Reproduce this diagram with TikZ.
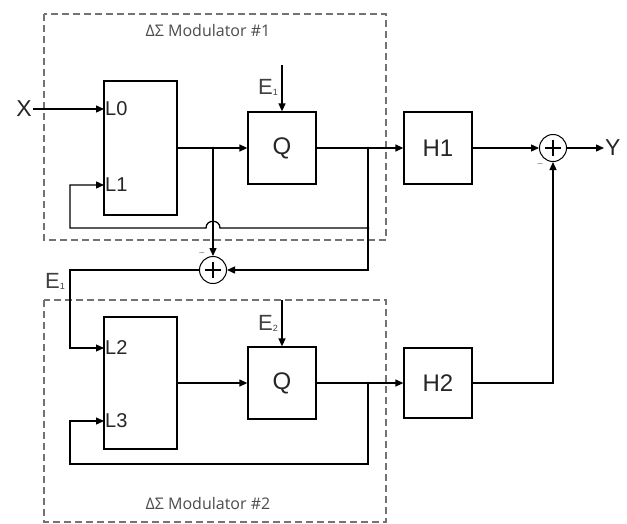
\documentclass[tikz,border=0pt]{standalone}
\usepackage{fontspec}
\setmainfont{Liberation Sans}
\newfontfamily\titlefont{Open Sans}
\usetikzlibrary{arrows.meta,calc}
\newcommand{\esub}[1]{E{\fontsize{9}{9}\selectfont\raisebox{-1pt}{#1}}}
\begin{document}
\begin{tikzpicture}[x=1pt,y=-1pt,
 blk/.style={draw,line width=1.3pt,minimum width=68pt,minimum height=72pt,inner sep=0pt,font=\fontsize{24}{26}\selectfont,text=black!85},
 lblk/.style={draw,line width=1.3pt,minimum width=73pt,minimum height=134pt,inner sep=0pt},
 wire/.style={line width=1.3pt},
 arr/.style={wire,-{Triangle[length=8pt,width=7pt]}},
 modbox/.style={draw=black!55,dash pattern=on 7pt off 4pt,line width=1.3pt},
 sum/.style={draw,circle,minimum size=27pt,inner sep=0pt,line width=1pt},
 plus/.style={line width=1.6pt},
 port/.style={font=\fontsize{20}{22}\selectfont,anchor=west,inner sep=1pt,text=black!85},
 ttl/.style={font=\titlefont\fontsize{16}{18}\selectfont,text=black!70},
 sig/.style={font=\fontsize{23}{25}\selectfont,inner sep=1pt,text=black!85},
 elab/.style={font=\fontsize{22}{24}\selectfont,text=black!75,inner sep=1pt},
 minus/.style={font=\fontsize{9}{9}\selectfont,text=black!60,inner sep=0pt},
 dot/.style={fill,circle,inner sep=0pt,minimum size=3pt},
]
\useasboundingbox (0,0) rectangle (627,523);
\fill[white] (0,0) rectangle (627,523);
% modulator frames
\draw[modbox] (44,14) rectangle (386,240);
\draw[modbox] (44,300) rectangle (386,522);
\node[ttl] (tA) at (208,30) {ΔΣ Modulator \#1};
\node[ttl] (tB) at (208,503) {ΔΣ Modulator \#2};
% blocks
\node[lblk] (LA) at (140.5,148) {};
\node[blk] (QA) at (282,148) {Q};
\node[blk] (HA) at (438,148) {H1};
\node[lblk,minimum height=132pt] (LB) at (140.5,383) {};
\node[blk] (QB) at (282,383) {Q};
\node[blk,minimum height=70pt] (HB) at (438,383) {H2};
\node[sum] (SA) at (213,270) {};
\node[sum] (SB) at (553,148) {};
\draw[plus] ([xshift=-8pt]SA.center) -- ([xshift=8pt]SA.center);
\draw[plus] ([yshift=-8pt]SA.center) -- ([yshift=8pt]SA.center);
\draw[plus] ([xshift=-8pt]SB.center) -- ([xshift=8pt]SB.center);
\draw[plus] ([yshift=-8pt]SB.center) -- ([yshift=8pt]SB.center);
\node[minus] (mA) at (202,254) {--};
\node[minus] (mB) at (540,165) {--};
% port labels
\node[port] (l0) at (104,109) {L0};
\node[port] (l1) at (104,185) {L1};
\node[port] (l2) at (104,348) {L2};
\node[port] (l3) at (104,421) {L3};
\coordinate (pL0) at (104,109);
\coordinate (pL1) at (104,185);
\coordinate (pL2) at (104,348);
\coordinate (pL3) at (104,421);
% signals
\node[sig,anchor=east] (X) at (33,109) {X};
\node[sig,anchor=west] (Y) at (604,148) {Y};
\node[elab] (E1a) at (268,87) {\esub{1}};
\node[elab] (E2) at (268,323) {\esub{2}};
\node[elab] (E1b) at (55,281) {\esub{1}};
\coordinate (eA) at (282,65);
\coordinate (eB) at (282,300);
% junctions
\coordinate (bA) at (213,148);
\coordinate (cA) at (368,148);
\coordinate (fA) at (368,228);
\coordinate (kA) at (70,228);
\coordinate (kS) at (70,348);
\coordinate (cB) at (368,383);
\coordinate (fB) at (368,464);
\coordinate (kB) at (70,464);
\node[dot] at (bA) {};
\node[dot] at (cA) {};
\node[dot] at (fA) {};
\node[dot] at (cB) {};
% modulator 1 wiring
\draw[arr] (X.east) -- (pL0);
\draw[arr] (LA.east) -- (QA.west);
\draw[arr] (QA.east) -- (HA.west);
\draw[arr] (eA) -- (QA.north);
\draw[wire] (cA) -- (fA);
\draw[arr] (fA) -- (220,228) .. controls (220,219) and (206,219) .. (206,228) -- (kA) |- (pL1);
\draw[arr] (bA) -- (SA.north);
\draw[arr] (fA) |- (SA.east);
\draw[arr] (SA.west) -| (kS) -- (pL2);
% modulator 2 wiring
\draw[arr] (eB) -- (QB.north);
\draw[arr] (LB.east) -- (QB.west);
\draw[arr] (QB.east) -- (HB.west);
\draw[arr] (cB) -- (fB) -- (kB) |- (pL3);
% output
\draw[arr] (HA.east) -- (SB.west);
\draw[arr] (HB.east) -| (SB.south);
\draw[arr] (SB.east) -- (Y.west);
\end{tikzpicture}
\end{document}
